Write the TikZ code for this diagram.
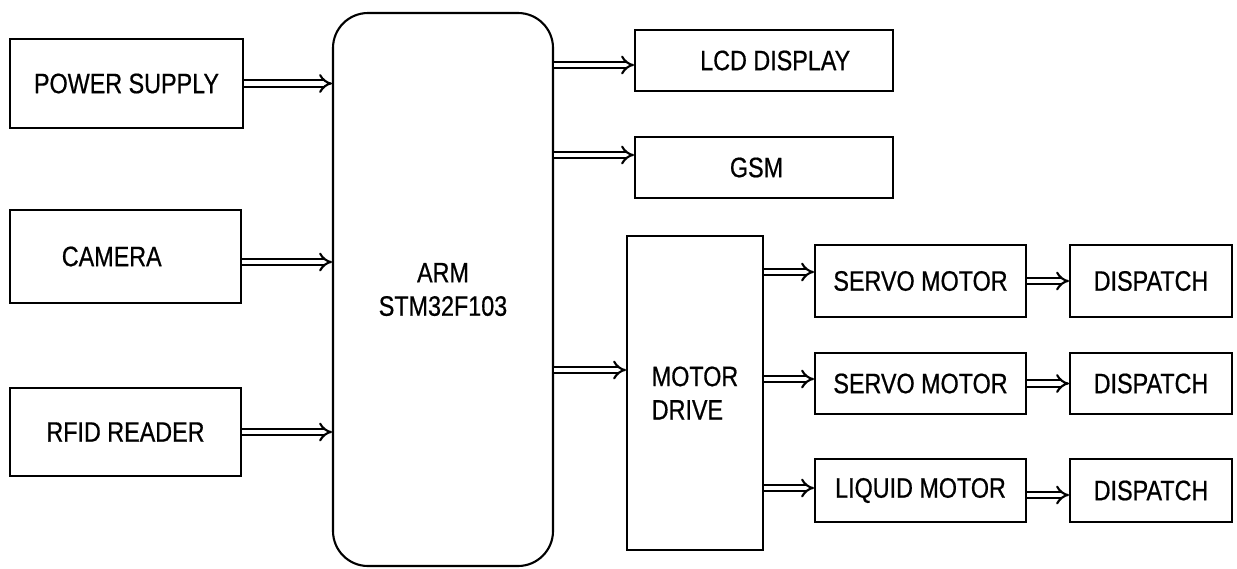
\documentclass[tikz,border=0pt]{standalone}
\usepackage{fontspec}
\setmainfont{Liberation Sans}[FakeStretch=0.83, FakeBold=0.6]
\usepackage{tikz}
\usetikzlibrary{arrows.meta, positioning}

\begin{document}
\begin{tikzpicture}[
    block/.style={draw, line width=1.2pt, rectangle, inner sep=0pt, font=\fontsize{16}{19}\selectfont},
    link/.style={double, double distance=2.4pt, line width=1.2pt, -{Implies}},
  ]

    \useasboundingbox (0,0) rectangle (24.74,-11.36);

    % inputs
    \node[block, minimum width=4.66cm, minimum height=1.78cm] (ps) at (2.53,-1.67) {POWER SUPPLY};
    \node[block, minimum width=4.62cm, minimum height=1.86cm] (cam) at (2.51,-5.13) {CAMERA\hspace*{0.55cm}};
    \node[block, minimum width=4.62cm, minimum height=1.76cm] (rfid) at (2.51,-8.64) {RFID READER};

    % controller
    \node[block, rounded corners=0.7cm, minimum width=4.40cm, minimum height=11.06cm, align=center] (arm) at (8.86,-5.79) {ARM\\STM32F103};

    % outputs
    \node[block, minimum width=5.16cm, minimum height=1.22cm] (lcd) at (15.28,-1.21) {\hspace*{0.45cm}LCD DISPLAY};
    \node[block, minimum width=5.16cm, minimum height=1.22cm] (gsm) at (15.28,-3.35) {GSM\hspace*{0.3cm}};
    \node[block, minimum width=2.72cm, minimum height=6.28cm, align=left] (drive) at (13.9,-7.86) {MOTOR\\DRIVE};

    \node[block, minimum width=4.22cm, minimum height=1.44cm] (servoa) at (18.41,-5.62) {SERVO MOTOR};
    \node[block, minimum width=4.22cm, minimum height=1.22cm] (servob) at (18.41,-7.67) {SERVO MOTOR};
    \node[block, minimum width=4.22cm, minimum height=1.26cm] (liquid) at (18.41,-9.81) {LIQUID MOTOR};

    \node[block, minimum width=3.24cm, minimum height=1.44cm] (dispa) at (23.02,-5.62) {DISPATCH};
    \node[block, minimum width=3.24cm, minimum height=1.22cm] (dispb) at (23.02,-7.67) {DISPATCH};
    \node[block, minimum width=3.24cm, minimum height=1.26cm] (dispc) at (23.02,-9.81) {DISPATCH};

    % arrows
    \draw[link] (ps.east) -- (ps.east -| arm.west);
    \draw[link] (cam.east |- 0,-5.24) -- (arm.west |- 0,-5.24);
    \draw[link] (rfid.east) -- (rfid.east -| arm.west);

    \draw[link] (arm.east |- 0,-1.30) -- (lcd.west |- 0,-1.30);
    \draw[link] (arm.east |- 0,-3.10) -- (gsm.west |- 0,-3.10);
    \draw[link] (arm.east |- 0,-7.40) -- (drive.west |- 0,-7.40);

    \draw[link] (drive.east |- 0,-5.44) -- (servoa.west |- 0,-5.44);
    \draw[link] (drive.east |- 0,-7.58) -- (servob.west |- 0,-7.58);
    \draw[link] (drive.east |- 0,-9.76) -- (liquid.west |- 0,-9.76);

    \draw[link] (servoa.east) -- (dispa.west);
    \draw[link] (servob.east) -- (dispb.west);
    \draw[link] (liquid.east |- 0,-9.90) -- (dispc.west |- 0,-9.90);

\end{tikzpicture}
\end{document}
